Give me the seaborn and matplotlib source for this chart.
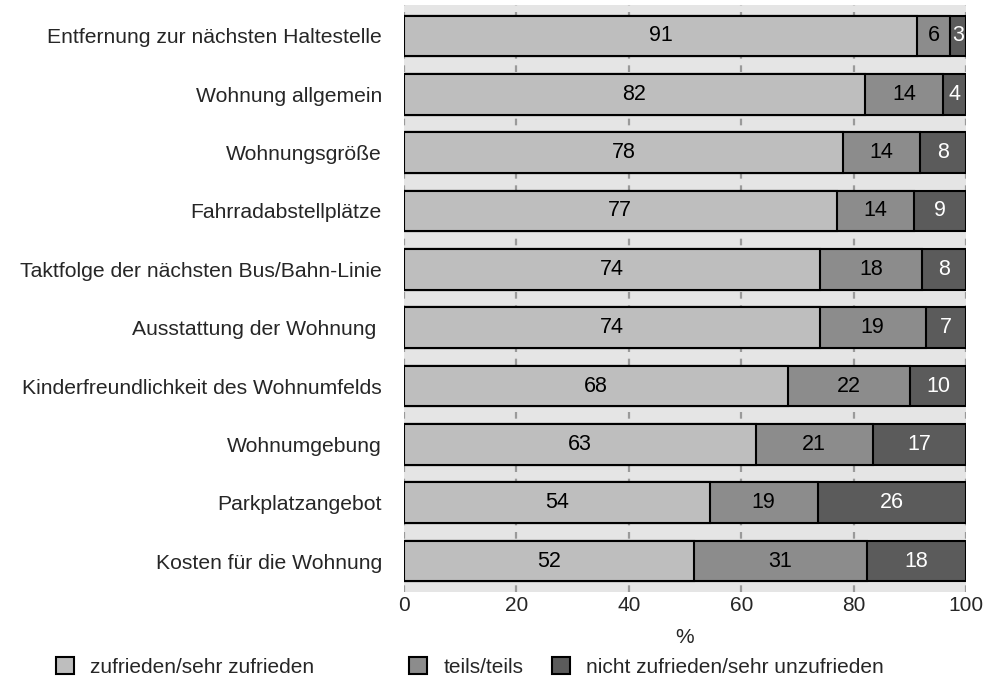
import matplotlib
matplotlib.use("Agg")
import matplotlib.pyplot as plt
from matplotlib.patches import Patch
import seaborn as sns
import numpy as np
import pandas as pd

categories = [
    "Entfernung zur nächsten Haltestelle",
    "Wohnung allgemein",
    "Wohnungsgröße",
    "Fahrradabstellplätze",
    "Taktfolge der nächsten Bus/Bahn-Linie",
    "Ausstattung der Wohnung ",
    "Kinderfreundlichkeit des Wohnumfelds",
    "Wohnumgebung",
    "Parkplatzangebot",
    "Kosten für die Wohnung",
]
zufrieden = [91.3, 82.0, 78.1, 77.0, 74.0, 74.0, 68.3, 62.6, 54.4, 51.6]
teils = [5.9, 13.9, 13.8, 13.8, 18.2, 18.8, 21.7, 20.8, 19.2, 30.7]
nicht = [2.8, 4.1, 8.1, 9.2, 7.8, 7.2, 10.0, 16.6, 26.4, 17.7]
labels_z = [91, 82, 78, 77, 74, 74, 68, 63, 54, 52]
labels_t = [6, 14, 14, 14, 18, 19, 22, 21, 19, 31]
labels_n = [3, 4, 8, 9, 8, 7, 10, 17, 26, 18]
series_names = ["zufrieden/sehr zufrieden", "teils/teils", "nicht zufrieden/sehr unzufrieden"]
colors = ["#bebebe", "#8c8c8c", "#5b5b5b"]
xticks = [0, 20, 40, 60, 80, 100]

sns.set_theme(style="white")
plt.rcParams["font.family"] = ["Liberation Sans", "DejaVu Sans"]

df = pd.DataFrame({"cat": categories, "z": zufrieden, "t": teils, "n": nicht})
df["c1"] = df["z"]
df["c2"] = df["z"] + df["t"]
df["c3"] = df["z"] + df["t"] + df["n"]

fig = plt.figure(figsize=(9.94, 6.82), dpi=100)
ax = fig.add_axes([404 / 994, 1 - 592 / 682, (966 - 404) / 994, (592 - 5) / 682])
ax.set_facecolor("#e5e5e5")

for col, color in zip(["c3", "c2", "c1"], colors[::-1]):
    sns.barplot(data=df, x=col, y="cat", orient="h", color=color, width=0.7,
                edgecolor="black", linewidth=1.5, saturation=1, ax=ax, zorder=3)

ax.set_xlim(0, 100)
ax.set_ylim(len(categories) - 0.47, -0.53)
ax.set_xticks(xticks)
ax.set_xticklabels([str(v) for v in xticks])
for x in xticks:
    ax.axvline(x, color="#9a9a9a", linewidth=1.6, linestyle=(0, (3, 3)), zorder=1)

for i in range(len(categories)):
    z, t, n = zufrieden[i], teils[i], nicht[i]
    ax.text(z / 2, i, str(labels_z[i]), ha="center", va="center", fontsize=15.5, color="black", zorder=5)
    ax.text(z + t / 2, i, str(labels_t[i]), ha="center", va="center", fontsize=15.5, color="black", zorder=5)
    ax.text(z + t + n / 2, i, str(labels_n[i]), ha="center", va="center", fontsize=15.5, color="white", zorder=5)

for s in ax.spines.values():
    s.set_visible(False)
ax.tick_params(axis="y", length=0, pad=16, labelsize=15.2)
ax.tick_params(axis="x", length=0, pad=3, labelsize=15)
ax.set_ylabel("")
ax.set_xlabel("%", fontsize=15, labelpad=9.5)

legend_x = [56 / 994, 409 / 994, 552 / 994]
for name, color, lx in zip(series_names, colors, legend_x):
    fig.legend(handles=[Patch(facecolor=color, edgecolor="black", linewidth=1.5, label=name)],
               loc="center left", bbox_to_anchor=(lx, 1 - 667 / 682), frameon=False,
               fontsize=15, handlelength=0.85, handleheight=0.85, handletextpad=0.8,
               borderpad=0, borderaxespad=0)

fig.savefig("out.png", dpi=100)
